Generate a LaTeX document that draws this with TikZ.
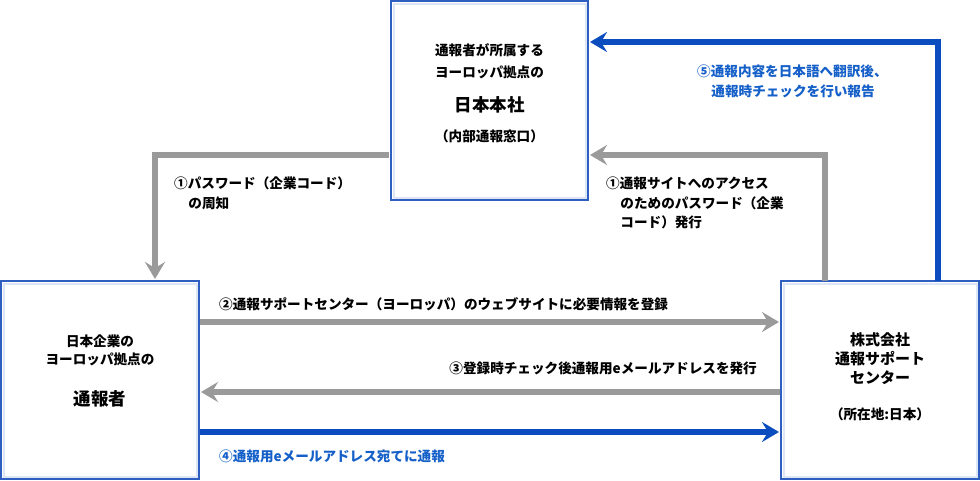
\documentclass[tikz,border=0pt]{standalone}
\usepackage{fontspec}
\setmainfont{Noto Sans CJK JP}
\usetikzlibrary{arrows.meta}
\definecolor{arrblue}{HTML}{0B4DBF}
\definecolor{txtblue}{HTML}{1560C8}
\definecolor{arrgray}{HTML}{9A9A9A}
\definecolor{boxline}{HTML}{2E5EC0}
\definecolor{boxshade}{HTML}{DCE6F6}
\begin{document}
\begin{tikzpicture}[x=1pt,y=-1pt,
  box/.style={draw=boxline,line width=1.5pt,fill=white},
  ga/.style={draw=arrgray,line width=6pt,-{Stealth[length=17pt,width=20pt,inset=6pt]}},
  ba/.style={draw=arrblue,line width=6pt,-{Stealth[length=17pt,width=20pt,inset=6pt]}},
  lbl/.style={font=\fontsize{13.6}{19.5}\selectfont\bfseries,align=left,inner sep=0pt,anchor=north west},
  t/.style={font=\fontsize{13.6}{16}\selectfont\bfseries,inner sep=0pt},
  big/.style={font=\fontsize{17.5}{20}\selectfont\bfseries,inner sep=0pt}]
\useasboundingbox (0,0) rectangle (980,480);
% boxes
\path[box] (391,1) rectangle (588,200);
\path[box] (1,281) rectangle (199,479);
\path[box] (781,281) rectangle (979,479);
\draw[boxshade,line width=2pt] (393.5,3.5) rectangle (585.5,197.5);
\draw[boxshade,line width=2pt] (3.5,283.5) rectangle (196.5,476.5);
\draw[boxshade,line width=2pt] (783.5,283.5) rectangle (976.5,476.5);
\node[t] (t1) at (489.5,50) {通報者が所属する};
\node[t] (t2) at (489.5,72) {ヨーロッパ拠点の};
\node[big] (t3) at (489.5,105) {日本本社};
\node[t] (t4) at (489.5,136) {（内部通報窓口）};
\node[t] (l1) at (100,341) {日本企業の};
\node[t] (l2) at (100,359) {ヨーロッパ拠点の};
\node[big] (l3) at (100,399) {通報者};
\node[t,font=\fontsize{15}{16}\selectfont\bfseries] (r1) at (880,340) {株式会社};
\node[t,font=\fontsize{15}{16}\selectfont\bfseries] (r2) at (880,359) {通報サポート};
\node[t,font=\fontsize{15}{16}\selectfont\bfseries] (r3) at (880,378) {センター};
\node[t] (r4) at (880,414) {（所在地:日本）};
% anchors
\coordinate (a1s) at (389,155); \coordinate (a1c) at (155,155); \coordinate (a1e) at (155,279);
\coordinate (b1s) at (825,281); \coordinate (b1c) at (825,155); \coordinate (b1e) at (590,155);
\coordinate (c1s) at (938,281); \coordinate (c1c) at (938,42); \coordinate (c1e) at (590,42);
\coordinate (h2s) at (200,322); \coordinate (h2e) at (779,322);
\coordinate (h3s) at (780,392); \coordinate (h3e) at (201,392);
\coordinate (h4s) at (200,432); \coordinate (h4e) at (779,432);
\draw[ga] (a1s) -- (a1c) -- (a1e);
\draw[ga] (b1s) -- (b1c) -- (b1e);
\draw[ba] (c1s) -- (c1c) -- (c1e);
\draw[ga] (h2s) -- (h2e);
\draw[ga] (h3s) -- (h3e);
\draw[ba] (h4s) -- (h4e);
% labels
\node[lbl] (L1) at (174,177) {①パスワード（企業コード）\\\hspace{1.05em}の周知};
\node[lbl] (L2) at (606,177) {①通報サイトへのアクセス\\\hspace{1.05em}のためのパスワード（企業\\\hspace{1.05em}コード）発行};
\node[lbl,text=txtblue] (L5) at (697,65) {⑤通報内容を日本語へ翻訳後、\\\hspace{1.05em}通報時チェックを行い報告};
\node[lbl] (L6) at (219,297) {②通報サポートセンター（ヨーロッパ）のウェブサイトに必要情報を登録};
\node[lbl,anchor=north east] (L7) at (757,362) {③登録時チェック後通報用eメールアドレスを発行};
\node[lbl,text=txtblue] (L8) at (219,450) {④通報用eメールアドレス宛てに通報};
\end{tikzpicture}
\end{document}
